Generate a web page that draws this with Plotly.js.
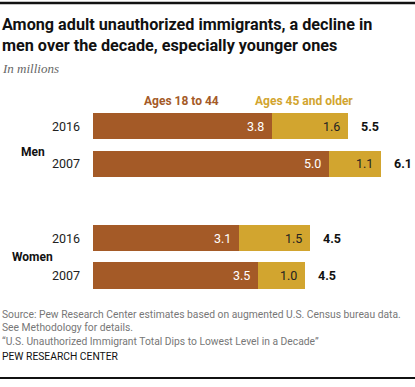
<!DOCTYPE html>
<html>
<head>
<meta charset="utf-8">
<script src="https://cdn.plot.ly/plotly-3.0.1.min.js"></script>
<style>
html,body{margin:0;padding:0;background:#fff;}
#chart{width:415px;height:387px;}
</style>
</head>
<body>
<div id="chart"></div>
<script>
// Data
const groups = ["Men", "Men", "Women", "Women"];
const years = ["2016", "2007", "2016", "2007"];
const positions = [0, 1, 3, 4];
const younger = [3.8, 5.0, 3.1, 3.5];
const older = [1.6, 1.1, 1.5, 1.0];
const totals = [5.5, 6.1, 4.5, 4.5];
const seriesNames = ["Ages 18 to 44", "Ages 45 and older"];

const brown = "#A45A27";
const gold = "#D2A52F";
const font = "Roboto, 'Liberation Sans', Arial, sans-serif";

const traces = [
  {type: "bar", orientation: "h", y: positions, x: younger, name: seriesNames[0],
   marker: {color: brown}, width: 0.7, hoverinfo: "skip"},
  {type: "bar", orientation: "h", y: positions, x: older, name: seriesNames[1],
   marker: {color: gold}, width: 0.7, hoverinfo: "skip"}
];

const ann = [];
positions.forEach((p, i) => {
  ann.push({xref: "paper", yref: "y", x: 82/415, y: p, xanchor: "right", yanchor: "middle",
    text: years[i], showarrow: false, font: {family: font, size: 12.5, color: "#222"}});
  ann.push({xref: "x", yref: "y", x: younger[i], y: p, xanchor: "right", yanchor: "middle", xshift: -6,
    text: younger[i].toFixed(1), showarrow: false, font: {family: font, size: 12.5, color: "#fff"}});
  ann.push({xref: "x", yref: "y", x: younger[i] + older[i], y: p, xanchor: "right", yanchor: "middle", xshift: -6,
    text: older[i].toFixed(1), showarrow: false, font: {family: font, size: 12.5, color: "#222"}});
  ann.push({xref: "x", yref: "y", x: younger[i] + older[i], y: p, xanchor: "left", yanchor: "middle", xshift: 11,
    text: "<b>" + totals[i].toFixed(1) + "</b>", showarrow: false, font: {family: font, size: 12.5, color: "#111"}});
});
ann.push({xref: "paper", yref: "y", x: 33/415, y: 0.7, xanchor: "center", yanchor: "middle",
  text: "<b>" + groups[0] + "</b>", showarrow: false, font: {family: font, size: 12, color: "#111"}});
ann.push({xref: "paper", yref: "y", x: 32/415, y: 3.5, xanchor: "center", yanchor: "middle",
  text: "<b>" + groups[2] + "</b>", showarrow: false, font: {family: font, size: 12, color: "#111"}});
ann.push({xref: "paper", yref: "paper", x: 181/415, y: 1 - 101/387, xanchor: "center", yanchor: "middle",
  text: "<b>" + seriesNames[0] + "</b>", showarrow: false, font: {family: font, size: 12, color: brown}});
ann.push({xref: "paper", yref: "paper", x: 304/415, y: 1 - 101/387, xanchor: "center", yanchor: "middle",
  text: "<b>" + seriesNames[1] + "</b>", showarrow: false, font: {family: font, size: 12, color: gold}});
// title
ann.push({xref: "paper", yref: "paper", x: 0, y: 1 - 13/387, xanchor: "left", yanchor: "top", align: "left",
  text: "<b>Among adult unauthorized immigrants, a decline in<br>men over the decade, especially younger ones</b>",
  showarrow: false, font: {family: font, size: 16.2, color: "#111"}});
ann.push({xref: "paper", yref: "paper", x: 0, y: 1 - 59/387, xanchor: "left", yanchor: "top",
  text: "<i>In millions</i>", showarrow: false, font: {family: "'Liberation Serif', 'DejaVu Serif', serif", size: 13, color: "#666"}});
// footer
ann.push({xref: "paper", yref: "paper", x: 0, y: 1 - 306/387, xanchor: "left", yanchor: "top", align: "left",
  text: "Source: Pew Research Center estimates based on augmented U.S. Census bureau data.<br>See Methodology for details.<br>“U.S. Unauthorized Immigrant Total Dips to Lowest Level in a Decade”",
  showarrow: false, font: {family: font, size: 10.3, color: "#777"}});
ann.push({xref: "paper", yref: "paper", x: 0, y: 1 - 348/387, xanchor: "left", yanchor: "top",
  text: "PEW RESEARCH CENTER", showarrow: false, font: {family: font, size: 10.3, color: "#111"}});

const layout = {
  width: 415, height: 387,
  margin: {l: 0, r: 0, t: 0, b: 0},
  paper_bgcolor: "#fff", plot_bgcolor: "#fff",
  barmode: "stack",
  showlegend: false,
  xaxis: {range: [0, 6.5], domain: [93/415, (93 + 6.5*47.2)/415], visible: false, fixedrange: true},
  yaxis: {range: [4.5, -0.5], domain: [92.8/387, 279.35/387], visible: false, fixedrange: true},
  annotations: ann,
  shapes: [
    {type: "line", xref: "paper", yref: "paper", x0: 0, x1: 1, y0: 1 - 3/387, y1: 1 - 3/387, line: {color: "#111", width: 2.5}},
    {type: "line", xref: "paper", yref: "paper", x0: 0, x1: 1, y0: 1 - 378/387, y1: 1 - 378/387, line: {color: "#111", width: 2}}
  ]
};

Plotly.newPlot("chart", traces, layout, {staticPlot: true, displayModeBar: false});
</script>
</body>
</html>
